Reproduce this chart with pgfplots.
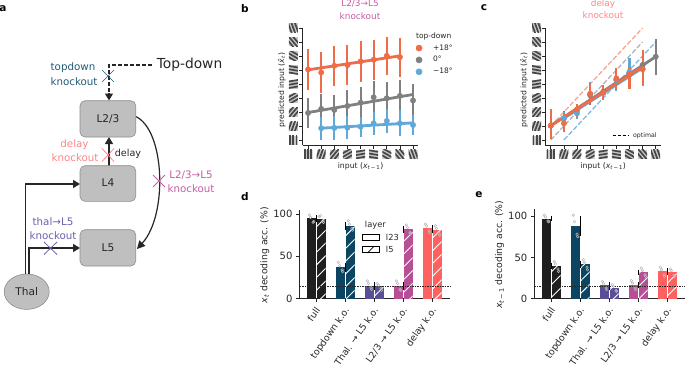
\documentclass[border=0pt]{standalone}
\usepackage{pgfplots}
\pgfplotsset{compat=1.18}
\usepackage{fontspec}
\setmainfont{DejaVu Sans}
\usetikzlibrary{arrows.meta,patterns.meta}
\definecolor{cA}{HTML}{262626}
\definecolor{org}{HTML}{EE6C47}
\definecolor{gry}{HTML}{808080}
\definecolor{blu}{HTML}{5FA8D8}
\definecolor{kblk}{HTML}{1F1F1F}
\definecolor{ktl}{HTML}{0B4561}
\definecolor{kpu}{HTML}{594F96}
\definecolor{kma}{HTML}{B84F96}
\definecolor{kre}{HTML}{FF6060}
\definecolor{ttl}{HTML}{1F5A78}
\definecolor{tre}{HTML}{FF8585}
\definecolor{tma}{HTML}{C85CA4}
\definecolor{tpu}{HTML}{6A60A8}
\newcommand\grat[3]{\begin{scope}\clip (#1-4.5,#2-4.5) rectangle ++(9,9);
\fill[gray!45] (#1-4.5,#2-4.5) rectangle ++(9,9);
\foreach \d in {-3.2,0,3.2} \draw[line width=1.7pt,black!72,rotate around={-#3:(#1,#2)}] (#1+\d,#2-9) -- (#1+\d,#2+9);
\end{scope}}
\newcommand\gratrow[2]{\foreach \i/\a in {0/0,1/20,2/40,3/60,4/80,5/100,6/120,7/140,8/160}{\pgfmathsetmacro\xx{#1+13.125*\i}\grat{\xx}{#2}{\a}}}
\newcommand\gratcol[2]{\foreach \i/\a in {0/0,1/20,2/40,3/60,4/80,5/100,6/120,7/140,8/160}{\pgfmathsetmacro\yy{#2+14*\i}\grat{#1}{\yy}{\a}}}
\newcommand\fsA{\fontsize{10.3}{12}\selectfont}
\newcommand\fsT{\fontsize{8.9}{10}\selectfont}
\pgfplotsset{
 base/.style={scale only axis,axis lines=left,axis line style={-,cA,line width=.9pt},
  tick align=outside,tick style={cA,line width=.8pt},major tick length=3.5pt,
  /pgf/number format/assume math mode=true,clip=false,
  every axis x label/.style={at={(axis description cs:.5,-.18)},anchor=center,font=\fontsize{7.7}{9}\selectfont,text=cA},
  every axis y label/.style={at={(axis description cs:-.18,.47)},anchor=center,rotate=90,font=\fontsize{7.7}{9}\selectfont,text=cA}},
 grat/.style={base,width=115.7pt,height=117pt,xmin=-.41,xmax=8.41,ymin=-.36,ymax=8,
  xtick={0,...,8},ytick={0,...,8},xticklabels={},yticklabels={},
  xlabel={input (\textit{x}\textsubscript{\textit{t}\,−\,1})},ylabel={predicted input (\textit{\^x}\textsubscript{\textit{t}})}},
 pts/.style={only marks,mark=*,mark size=2.7pt,color=#1,
  error bars/y dir=both,error bars/y explicit,error bars/error mark=none,
  error bars/error bar style={#1,line width=2.1pt}},
 fitl/.style={#1,line width=2.8pt,forget plot},
 dec/.style={base,ymin=0,xtick={0,...,4},ytick={0,50,100},
  xticklabels={full,topdown k.o.,Thal. → L5 k.o.,L2/3 → L5 k.o.,delay k.o.},
  xticklabel style={rotate=55,anchor=north east,inner sep=1pt,xshift=-3pt,font=\fontsize{9.3}{10}\selectfont,text=cA},
  yticklabel style={font=\fontsize{10}{11}\selectfont,text=cA},
  every axis y label/.style={at={(axis description cs:-.23,.49)},anchor=center,rotate=90,font=\fontsize{9.3}{11}\selectfont,text=cA}},
 bb/.style={ybar,bar width=8.7pt,draw=none,fill=#1,forget plot,
  error bars/y dir=both,error bars/y explicit,error bars/error mark=none,
  error bars/error bar style={black,line width=1.2pt}},
 bl/.style={bb=#1,bar shift=-5pt},
 br/.style={bb=#1,bar shift=5pt,postaction={pattern={Lines[angle=45,distance=9pt,line width=.9pt]},pattern color=white}},
 dots/.style={only marks,forget plot,mark=o,mark size=1.3pt,mark options={draw=gray!55,line width=.5pt}},
}
\begin{document}
\begin{tikzpicture}[x=1pt,y=1pt]
\useasboundingbox (0,0) rectangle (685,365);
\clip (0,0) rectangle (685,365);
% panel letters
\foreach \t/\xx/\yy in {a/3/356,b/245/356,c/484/357,d/245/168,e/479/170}
  \node[font=\fontsize{10.5}{11}\selectfont\bfseries] at (\xx,\yy) {\t};
% panel a
\begin{scope}[every node/.style={font=\fontsize{10.6}{12}\selectfont,text=cA}]
\tikzset{box/.style={fill=gray!50!white,draw=gray!90,line width=.6pt,rounded corners=5pt}}
\draw[cA,line width=1.4pt,-{Triangle[length=7pt,width=8pt]}] (25.5,90) -- (25.5,181) -- (80,181);
\draw[cA,line width=1.4pt,-{Triangle[length=7pt,width=8pt]}] (29,90) -- (29,117) -- (80,117);
\draw[cA,line width=1.4pt,-{Triangle[length=7pt,width=8pt]}] (109,199) -- (109,228);
\draw[cA,line width=1.3pt,dash pattern=on 4pt off 2pt] (152,300) -- (109,300) -- (109,273);
\draw[cA,line width=1.3pt,-{Triangle[length=7pt,width=8pt]}] (109,272) -- (109,264.5);
\draw[cA,line width=1.2pt,-{Triangle[length=8pt,width=8pt]}] (135.7,248.5) .. controls (165,235) and (168,150) .. (137,116);
\draw[box] (80,228) rectangle (135.7,264.3);
\node at (108,246) {L2/3};
\draw[box] (80,163.7) rectangle (135.7,199.3);
\node at (108,182) {L4};
\draw[box] (80,99) rectangle (135.7,135.3);
\node at (108,117) {L5};
\draw[fill=gray!50!white,draw=gray!90,line width=.6pt] (26.7,73.3) ellipse (22.5 and 17.7);
\node at (26.7,73.3) {Thal};
\node[font=\fontsize{13.8}{15}\selectfont] at (189.5,300) {Top-down};
\node at (128,211) [font=\fontsize{9.6}{11}\selectfont] {delay};
% crosses
\draw[ttl,line width=.7pt] (102,283) -- (114,295) (102,295) -- (114,283);
\draw[tre,line width=.8pt] (102,203.5) -- (114,216.5) (102,216.5) -- (114,203.5);
\draw[tma,line width=.8pt] (153,178) -- (165,190) (153,190) -- (165,178);
\draw[tpu,line width=.8pt] (44,110.5) -- (57,123) (44,123) -- (57,110.5);
\node[text=ttl,font=\fsA] at (73,297) {topdown};
\node[text=ttl,font=\fsA] at (74,283) {knockout};
\node[text=tre,font=\fsA] at (74.5,220) {delay};
\node[text=tre,font=\fsA] at (75,207) {knockout};
\node[text=tma,font=\fsA] at (191,190) {L2/3→L5};
\node[text=tma,font=\fsA] at (191,176) {knockout};
\node[text=tpu,font=\fsA] at (53,143) {thal→L5};
\node[text=tpu,font=\fsA] at (53,129) {knockout};
\end{scope}
% titles
\node[text=tma,font=\fsT] at (360,361) {L2/3→L5};
\node[text=tma,font=\fsT] at (360,349) {knockout};
\node[text=tre,font=\fsT] at (603,361) {delay};
\node[text=tre,font=\fsT] at (603,350) {knockout};
% gratings
\gratrow{308}{210.7}\gratcol{293.3}{225}
\gratrow{550.7}{210.7}\gratcol{536.7}{225}
% panel b
\begin{axis}[grat,at={(302.7pt,220pt)},anchor=south west,
 legend style={at={(.93,.98)},anchor=north west,draw=none,fill=none,font=\fontsize{7.5}{9}\selectfont,text=cA,row sep=.8pt,inner sep=0pt},
 legend image post style={mark size=3.1pt},
 legend cell align=left]
\addlegendimage{empty legend}\addlegendentry{\hspace{-8pt}top-down}
\addplot[pts=org] coordinates {(0,5.04) +- (0,1.46) (1,4.82) +- (0,1.47) (2,5.30) +- (0,1.43) (3,5.35) +- (0,1.44) (4,5.61) +- (0,1.48) (5,5.73) +- (0,1.43) (6,6.01) +- (0,1.37) (7,5.92) +- (0,1.40)};
\addlegendentry{\hspace{9pt}+18°}
\addplot[fitl=org] coordinates {(0,5.01) (7,6.01)};
\addplot[pts=gry] coordinates {(0,1.93) +- (0,1.09) (1,2.22) +- (0,1.07) (2,2.15) +- (0,1.07) (3,2.43) +- (0,1.13) (4,2.67) +- (0,1.11) (5,3.05) +- (0,1.13) (6,2.98) +- (0,1.13) (7,3.15) +- (0,1.13) (8,2.82) +- (0,1.17)};
\addlegendentry{\hspace{9pt}0°}
\addplot[fitl=gry] coordinates {(0,1.96) (8,3.25)};
\addplot[pts=blu] coordinates {(1,.84) +- (0,.81) (2,.86) +- (0,.83) (3,.88) +- (0,.81) (4,.95) +- (0,.72) (5,1.19) +- (0,.81) (6,1.36) +- (0,.83) (7,1.19) +- (0,.92) (8,1.07) +- (0,.74)};
\addlegendentry{\hspace{9pt}−18°}
\addplot[fitl=blu] coordinates {(1,.84) (8,1.22)};
\end{axis}
% panel c
\begin{axis}[grat,at={(545.4pt,220pt)},anchor=south west,
 every axis y label/.style={at={(axis description cs:-.185,.47)},anchor=center,rotate=90,font=\fontsize{7.7}{9}\selectfont,text=cA},
 legend style={at={(.98,.078)},anchor=east,draw=none,fill=none,font=\fontsize{6.2}{8}\selectfont,text=cA,inner sep=0pt},
 legend image post style={xscale=.88}]
\addplot[org,opacity=.6,line width=1.3pt,dash pattern=on 5pt off 2pt,forget plot] coordinates {(0,1) (7,8)};
\addplot[gry,opacity=.6,line width=1.3pt,dash pattern=on 5pt off 2pt,forget plot] coordinates {(0,0) (7,7)};
\addplot[blu,opacity=.8,line width=1.3pt,dash pattern=on 5pt off 2pt,forget plot] coordinates {(1,0) (8,7)};
\addplot[pts=gry,forget plot] coordinates {(0,1.02) += (0,.7) -= (0,.98) (1,1.55) += (0,.5) -= (0,.7) (2,2.14) += (0,.4) -= (0,.45) (3,3.2) += (0,.8) -= (0,.7) (4,3.45) += (0,.5) -= (0,.6) (5,4.29) += (0,.8) -= (0,.8) (6,4.76) += (0,.9) -= (0,.9) (7,5.36) += (0,.9) -= (0,.9) (8,5.95) += (0,1.24) -= (0,1.31)};
\addplot[fitl=gry] coordinates {(0,1.02) (8,5.95)};
\addplot[pts=blu,forget plot] coordinates {(1,1.55) += (0,.48) -= (0,.71) (2,1.90) += (0,.6) -= (0,.43) (3,3.29) += (0,.86) -= (0,.67) (4,3.38) += (0,.55) -= (0,.52) (5,4.29) += (0,.83) -= (0,.76) (6,4.88) += (0,.95) -= (0,.95) (7,5.05) += (0,1.36) -= (0,1.17)};
\addplot[fitl=blu] coordinates {(1,1.55) (7,5.15)};
\addplot[pts=org,forget plot] coordinates {(0,1.02) += (0,1.17) -= (0,.98) (1,1.19) += (0,.71) -= (0,.64) (2,2.19) += (0,.38) -= (0,.52) (3,3.29) += (0,.81) -= (0,.67) (4,3.38) += (0,.55) -= (0,.52) (5,4.40) += (0,.71) -= (0,.83) (6,4.71) += (0,.4) -= (0,1.1) (7,5.07) += (0,1.36) -= (0,1.14)};
\addplot[fitl=org] coordinates {(0,1.02) (7,5.24)};
\addlegendimage{black,line width=1pt,dash pattern=on 3.5pt off 1.5pt}
\addlegendentry{\hspace{3pt}optimal}
\end{axis}
% panel d
\begin{axis}[dec,at={(299.5pt,66.3pt)},anchor=south west,width=150.5pt,height=88.7pt,xmin=-.58,xmax=4.61,ymax=104.7,
 ylabel={\textit{x}\textsubscript{\textit{t}} decoding acc. (\%)},
 legend style={at={(.415,.895)},anchor=north west,draw=none,fill=none,font=\fontsize{8.3}{10}\selectfont,text=cA,inner sep=0pt,row sep=.4pt},
 legend cell align=left]
\addlegendimage{empty legend}\addlegendentry{\hspace{-17pt}layer}
\addlegendimage{legend image code/.code={\draw[black,line width=.8pt,fill=white] (0pt,-3pt) rectangle (17pt,3pt);}}\addlegendentry{\hspace{4pt}l23}
\addlegendimage{legend image code/.code={\draw[black,line width=.8pt,fill=white] (0pt,-3pt) rectangle (17pt,3pt);\draw[black,line width=.7pt] (5pt,-3pt) -- (11pt,3pt);}}\addlegendentry{\hspace{4pt}l5}
\addplot[bl=kblk] coordinates {(0,95) +- (0,4)};
\addplot[br=kblk] coordinates {(0,94) +- (0,3)};
\addplot[bl=ktl] coordinates {(1,37) +- (0,5)};
\addplot[br=ktl] coordinates {(1,86) +- (0,5)};
\addplot[bl=kpu] coordinates {(2,15) +- (0,5)};
\addplot[br=kpu] coordinates {(2,14.5) +- (0,3)};
\addplot[bl=kma] coordinates {(3,15) +- (0,5)};
\addplot[br=kma] coordinates {(3,82) +- (0,4)};
\addplot[bl=kre] coordinates {(4,83.5) +- (0,4)};
\addplot[br=kre] coordinates {(4,81) +- (0,4)};
\addplot[dots] coordinates {(-.24,99)(-.11,90)(-.20,96)(-.09,91)(.10,97)(.23,92)(.14,98)(.25,90)
(.76,43)(.89,34)(.80,39)(.91,32)(1.10,92)(1.23,83)(1.14,88)(1.25,81)
(1.76,21)(1.89,13)(1.80,18)(1.91,11)(2.10,18)(2.23,12)(2.14,16)(2.25,10)
(2.76,21)(2.89,11)(2.80,18)(2.91,10)(3.10,87)(3.23,78)(3.14,84)(3.25,77)
(3.76,88)(3.89,80)(3.80,86)(3.91,78)(4.10,86)(4.23,77)(4.14,83)(4.25,75)};
\addplot[cA,line width=.5pt,dash pattern=on 1.5pt off 1pt,forget plot] coordinates {(-.58,14.3) (4.61,14.3)};
\end{axis}
% panel e
\begin{axis}[dec,at={(534.3pt,66.3pt)},anchor=south west,width=150.7pt,height=89.7pt,xmin=-.586,xmax=4.61,ymax=108.5,
 ylabel={\textit{x}\textsubscript{\textit{t}\,−\,1} decoding acc. (\%)}]
\addplot[bl=kblk] coordinates {(0,97) +- (0,3)};
\addplot[br=kblk] coordinates {(0,39.5) +- (0,4)};
\addplot[bl=ktl] coordinates {(1,88) +- (0,12)};
\addplot[br=ktl] coordinates {(1,41.5) +- (0,4)};
\addplot[bl=kpu] coordinates {(2,16) +- (0,4)};
\addplot[br=kpu] coordinates {(2,13) +- (0,3)};
\addplot[bl=kma] coordinates {(3,16.5) +- (0,4)};
\addplot[br=kma] coordinates {(3,32) +- (0,3)};
\addplot[bl=kre] coordinates {(4,33) +- (0,4)};
\addplot[br=kre] coordinates {(4,32) +- (0,3)};
\addplot[dots] coordinates {(-.24,101)(-.11,94)(-.20,99)(-.09,93)(.10,45)(.23,36)(.14,42)(.25,33)
(.76,101)(.89,78)(.80,93)(.91,75)(1.10,47)(1.23,38)(1.14,44)(1.25,35)
(1.76,21)(1.89,13)(1.80,18)(1.91,11)(2.10,17)(2.23,10)(2.14,15)(2.25,9)
(2.76,22)(2.89,13)(2.80,19)(2.91,11)(3.10,37)(3.23,29)(3.14,34)(3.25,27)
(3.76,38)(3.89,29)(3.80,35)(3.91,27)(4.10,36)(4.23,28)(4.14,34)(4.25,27)};
\addplot[cA,line width=.5pt,dash pattern=on 1.5pt off 1pt,forget plot] coordinates {(-.586,14.8) (4.61,14.8)};
\end{axis}
\end{tikzpicture}
\end{document}
